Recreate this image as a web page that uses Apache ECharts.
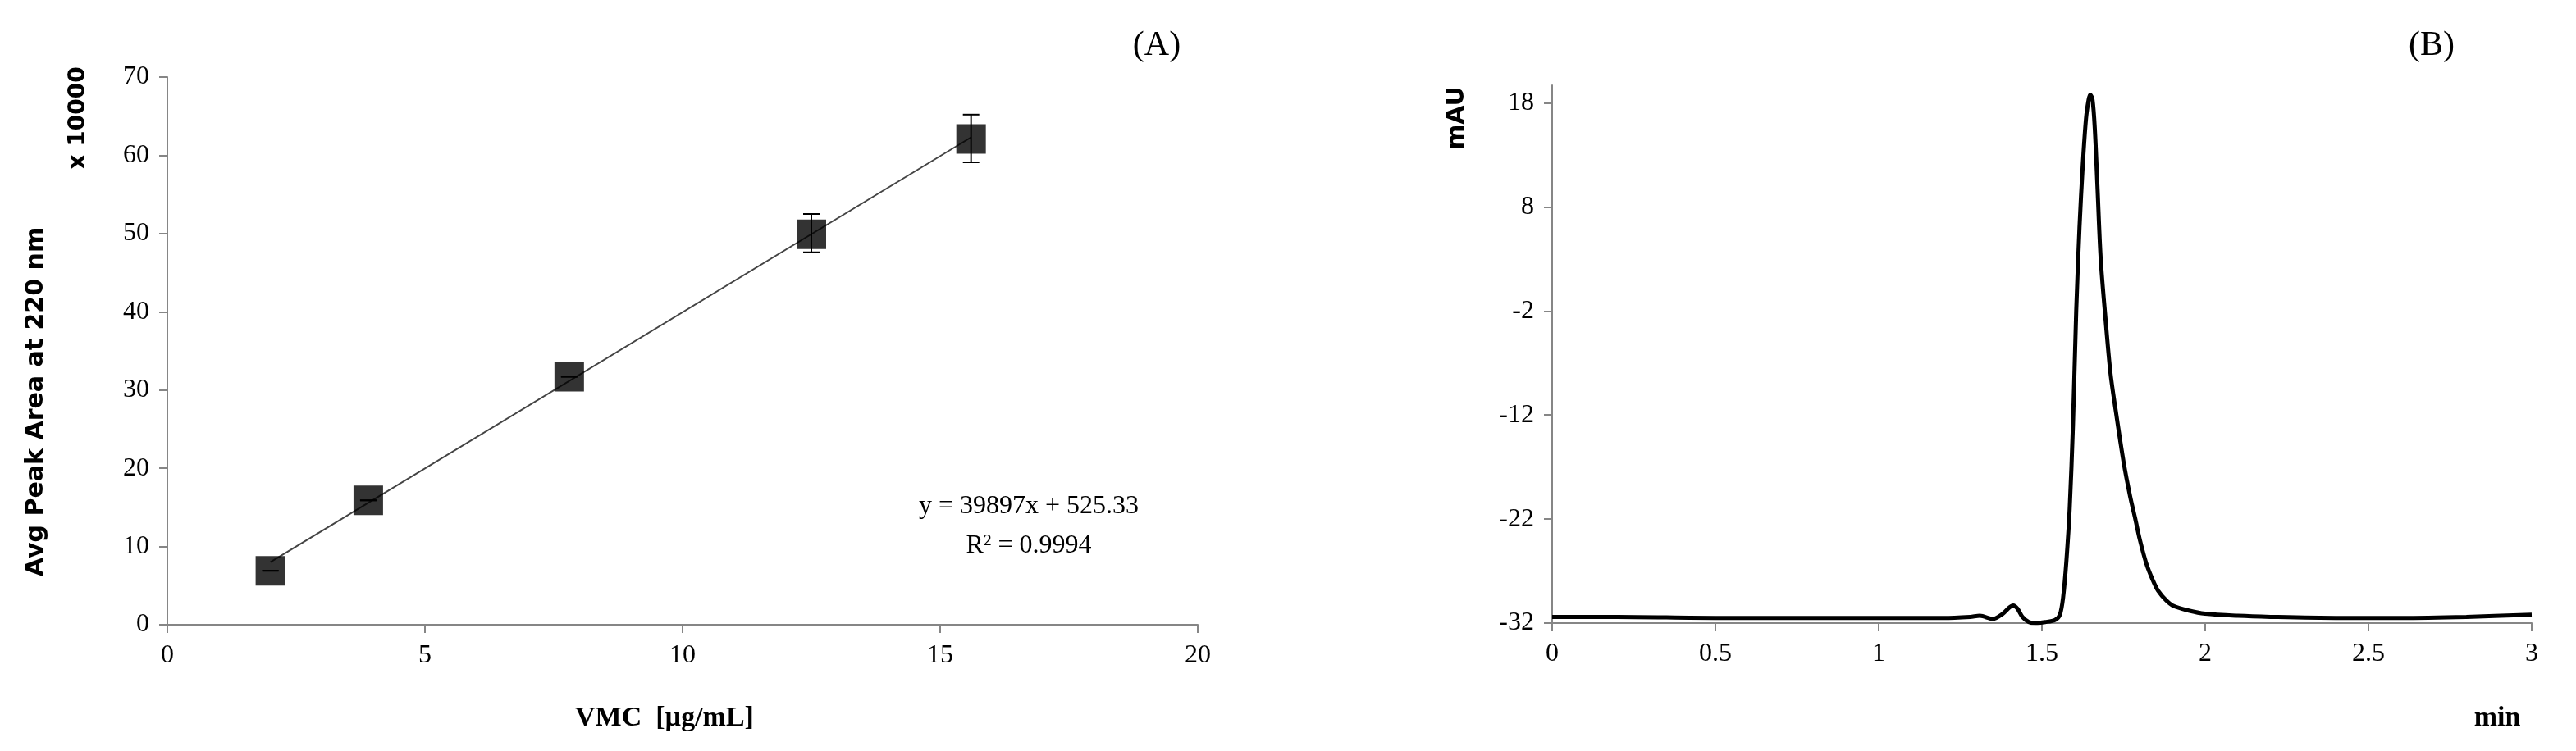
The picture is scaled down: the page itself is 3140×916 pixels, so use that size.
<!DOCTYPE html>
<html><head><meta charset="utf-8">
<script src="https://cdn.jsdelivr.net/npm/echarts@6/dist/echarts.min.js"></script>
<style>html,body{margin:0;padding:0;background:#fff}#c{width:3140px;height:916px}</style>
</head><body><div id="c"></div>
<script>
// Panel A: calibration data (units of 10000)
const concA = [2, 3.9, 7.8, 12.5, 15.6];
const areaA = [6.9, 15.9, 31.7, 49.9, 62.1];
const errLowA = [6.9, 15.9, 31.7, 47.6, 59.1];
const errHighA = [6.9, 15.9, 31.7, 52.5, 65.2];
const trendX = [2, 15.6];
const trendY = [8.0, 62.3];
const xTicksA = [0, 5, 10, 15, 20];
const yTicksA = [0, 10, 20, 30, 40, 50, 60, 70];
// Panel B: chromatogram
const timeB = [0, 0.2, 0.5, 0.8, 1.0, 1.2, 1.28, 1.31, 1.35, 1.38, 1.40, 1.412, 1.425, 1.44, 1.46, 1.48, 1.51, 1.54, 1.555, 1.565, 1.575, 1.585, 1.595, 1.605, 1.615, 1.625, 1.635, 1.643, 1.648, 1.655, 1.662, 1.67, 1.68, 1.694, 1.71, 1.728, 1.75, 1.77, 1.786, 1.80, 1.82, 1.84, 1.856, 1.88, 1.9, 1.95, 2.0, 2.1, 2.2, 2.4, 2.6, 2.8, 3.0];
const mauB = [-31.4, -31.4, -31.5, -31.5, -31.5, -31.5, -31.4, -31.3, -31.6, -31.1, -30.5, -30.3, -30.6, -31.4, -31.9, -32.0, -31.9, -31.7, -31.2, -29.5, -26, -21, -13, -2, 6, 12, 16.5, 18.3, 18.8, 18.3, 15.5, 10, 3, -2.5, -8, -12, -16.5, -19.8, -22, -24, -26.3, -27.9, -28.9, -29.8, -30.3, -30.8, -31.1, -31.3, -31.4, -31.5, -31.5, -31.4, -31.2];
const yTicksB = [-32, -22, -12, -2, 8, 18];

const axisCol = '#868686';
const tickFont = {fontFamily: 'Liberation Sans Narrow', fontSize: 32, color: '#000'};
const chart = echarts.init(document.getElementById('c'));
chart.setOption({
  animation: false,
  grid: [
    {left: 204, top: 94, width: 1256, height: 668},
    {left: 1892, top: 104, width: 1194, height: 656}
  ],
  xAxis: [
    {gridIndex: 0, type: 'value', min: xTicksA[0], max: xTicksA[xTicksA.length-1], interval: 5,
     axisLine: {lineStyle: {color: axisCol, width: 2}}, axisTick: {inside: false, length: 10, lineStyle: {color: axisCol, width: 2}},
     splitLine: {show: false}, axisLabel: Object.assign({margin: 22}, tickFont)},
    {gridIndex: 1, type: 'value', min: 0, max: 3, interval: 0.5,
     axisLine: {onZero: false, lineStyle: {color: axisCol, width: 2}}, axisTick: {length: 10, lineStyle: {color: axisCol, width: 2}},
     splitLine: {show: false}, axisLabel: Object.assign({margin: 22}, tickFont)}
  ],
  yAxis: [
    {gridIndex: 0, type: 'value', min: yTicksA[0], max: yTicksA[yTicksA.length-1], interval: 10,
     axisLine: {show: true, lineStyle: {color: axisCol, width: 2}}, axisTick: {show: true, length: 10, lineStyle: {color: axisCol, width: 2}},
     splitLine: {show: false}, axisLabel: Object.assign({margin: 22}, tickFont)},
    {gridIndex: 1, type: 'value', min: -32, max: 19.7, interval: 10,
     axisLine: {show: true, lineStyle: {color: axisCol, width: 2}}, axisTick: {show: true, length: 10, lineStyle: {color: axisCol, width: 2}},
     splitLine: {show: false}, axisLabel: Object.assign({margin: 22, showMaxLabel: false}, tickFont)}
  ],
  series: [
    {type: 'line', xAxisIndex: 0, yAxisIndex: 0, data: trendX.map((x, i) => [x, trendY[i]]),
     symbol: 'none', lineStyle: {color: '#444', width: 2}, z: 2},
    {type: 'custom', xAxisIndex: 0, yAxisIndex: 0, data: concA.map((x, i) => [x, errLowA[i], errHighA[i]]),
     renderItem: function (params, api) {
       const lo = api.coord([api.value(0), api.value(1)]);
       const hi = api.coord([api.value(0), api.value(2)]);
       const w = 10;
       const st = {stroke: '#000', lineWidth: 2};
       return {type: 'group', children: [
         {type: 'line', shape: {x1: lo[0], y1: lo[1], x2: hi[0], y2: hi[1]}, style: st},
         {type: 'line', shape: {x1: lo[0]-w, y1: lo[1], x2: lo[0]+w, y2: lo[1]}, style: st},
         {type: 'line', shape: {x1: hi[0]-w, y1: hi[1], x2: hi[0]+w, y2: hi[1]}, style: st}
       ]};
     }, z: 3},
    {type: 'scatter', xAxisIndex: 0, yAxisIndex: 0, data: concA.map((x, i) => [x, areaA[i]]),
     symbol: 'rect', symbolSize: 36, itemStyle: {color: '#000'}, z: 4},
    {type: 'line', xAxisIndex: 1, yAxisIndex: 1, data: timeB.map((t, i) => [t, mauB[i]]),
     symbol: 'none', smooth: 0.3, lineStyle: {color: '#000', width: 5}}
  ],
  graphic: [
    {type: 'text', x: 44, y: 490, rotation: Math.PI/2, style: {text: 'Avg Peak Area at 220 nm', font: 'bold 30px "DejaVu Sans"', fill: '#000', align: 'center', verticalAlign: 'middle'}},
    {type: 'text', x: 96, y: 144, rotation: Math.PI/2, style: {text: 'x 10000', font: 'bold 28px "DejaVu Sans"', fill: '#000', align: 'center', verticalAlign: 'middle'}},
    {type: 'text', x: 810, y: 876, style: {text: 'VMC  [µg/mL]', font: 'bold 34px "Liberation Sans Narrow"', fill: '#000', align: 'center', verticalAlign: 'middle'}},
    {type: 'text', x: 1410, y: 56, style: {text: '(A)', font: '42px "Liberation Sans Narrow"', fill: '#000', align: 'center', verticalAlign: 'middle'}},
    {type: 'text', x: 1254, y: 618, style: {text: 'y = 39897x + 525.33', font: '32px "Liberation Sans Narrow"', fill: '#000', align: 'center', verticalAlign: 'middle'}},
    {type: 'text', x: 1254, y: 666, style: {text: 'R² = 0.9994', font: '32px "Liberation Sans Narrow"', fill: '#000', align: 'center', verticalAlign: 'middle'}},
    {type: 'text', x: 2964, y: 56, style: {text: '(B)', font: '42px "Liberation Sans Narrow"', fill: '#000', align: 'center', verticalAlign: 'middle'}},
    {type: 'text', x: 1776, y: 144, rotation: Math.PI/2, style: {text: 'mAU', font: 'bold 30px "DejaVu Sans"', fill: '#000', align: 'center', verticalAlign: 'middle'}},
    {type: 'text', x: 3044, y: 876, style: {text: 'min', font: 'bold 34px "Liberation Sans Narrow"', fill: '#000', align: 'center', verticalAlign: 'middle'}}
  ]
});
</script></body></html>
